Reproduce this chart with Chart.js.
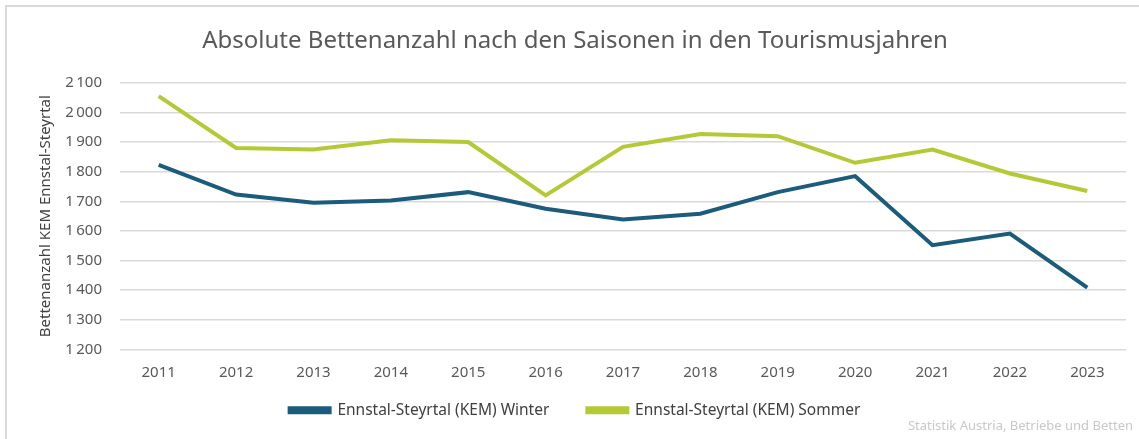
<!DOCTYPE html>
<html>
<head>
<meta charset="utf-8">
<script src="https://cdn.jsdelivr.net/npm/chart.js@4.4.1/dist/chart.umd.min.js"></script>
<style>
  body { margin: 0; background: #fff; }
  #frame { position: absolute; left: 5px; top: 5px; width: 1140px; height: 440px;
           border-top: 2px solid #dadada; border-left: 2px solid #dadada; }
  #wrap { position: absolute; left: 0; top: 0; width: 1139px; height: 439px; }
  #source { position: absolute; right: 6px; top: 416px; font-family: "Liberation Sans Narrow", "Noto Sans", sans-serif;
            font-size: 13px; color: #c8c8c8; }
</style>
</head>
<body>
<div id="frame"></div>
<div id="wrap"><canvas id="chart_1" width="1139" height="439"></canvas></div>
<div id="source">Statistik Austria, Betriebe und Betten</div>
<script>
// Tourismusjahre
const years = ['2011', '2012', '2013', '2014', '2015', '2016', '2017', '2018', '2019', '2020', '2021', '2022', '2023']
// Betten je Saison
const winter = [1823, 1723, 1695, 1703, 1731, 1675, 1639, 1658, 1731, 1785, 1552, 1591, 1409]
const sommer = [2055, 1880, 1875, 1906, 1900, 1720, 1884, 1927, 1920, 1830, 1875, 1794, 1735]

const series_names = ['Ennstal-Steyrtal (KEM) Winter', 'Ennstal-Steyrtal (KEM) Sommer']
const line_colours = ['#1b5c7c', '#b4c935']

function fmt(v) {
  // 2100 -> "2 100"
  let s = String(v)
  if (s.length > 3) s = s.slice(0, s.length - 3) + '\u2009' + s.slice(-3)
  return s
}

let ctx = document.getElementById('chart_1').getContext('2d')
let chart1 = new Chart(ctx, {
  type: 'line',
  data: {
    labels: years,
    datasets: [
      {
        label: series_names[0],
        data: winter,
        borderColor: line_colours[0],
        backgroundColor: line_colours[0],
        borderWidth: 4,
        pointRadius: 0,
        tension: 0
      },
      {
        label: series_names[1],
        data: sommer,
        borderColor: line_colours[1],
        backgroundColor: line_colours[1],
        borderWidth: 4,
        pointRadius: 0,
        tension: 0
      }
    ]
  },
  options: {
    responsive: false,
    animation: false,
    layout: { padding: { left: 24, right: 13, top: 0, bottom: 11 } },
    plugins: {
      title: {
        display: true,
        text: 'Absolute Bettenanzahl nach den Saisonen in den Tourismusjahren',
        color: '#595959',
        font: { family: 'Noto Sans', size: 24, weight: 'normal' },
        padding: { top: 27, bottom: 27 }
      },
      legend: {
        position: 'bottom',
        labels: {
          color: '#404040',
          font: { family: 'Noto Sans', size: 15.5 },
          boxWidth: 40,
          boxHeight: 4,
          padding: 7,
          generateLabels: function (chart) {
            let items = Chart.defaults.plugins.legend.labels.generateLabels(chart)
            // wider gap after the first entry, like the original
            items[0].text = items[0].text + '\u2003\u2003'
            return items
          }
        }
      },
      tooltip: { enabled: false }
    },
    scales: {
      x: {
        offset: true,
        grid: { display: false, drawTicks: false },
        border: { display: false },
        ticks: {
          color: '#595959',
          font: { family: 'Noto Sans', size: 15 },
          padding: 14,
          maxRotation: 0
        }
      },
      y: {
        min: 1200,
        max: 2100,
        afterFit: function (scale) { scale.width = 96 },
        grid: { color: '#d9d9d9', lineWidth: 1.5, drawTicks: false },
        border: { display: false },
        ticks: {
          stepSize: 100,
          color: '#595959',
          font: { family: 'Noto Sans', size: 15 },
          padding: 18,
          callback: function (v) { return fmt(v) }
        },
        title: {
          display: true,
          text: 'Bettenanzahl KEM Ennstal-Steyrtal',
          color: '#404040',
          font: { family: 'Noto Sans', size: 15 },
          padding: { top: 13, bottom: 0 }
        }
      }
    }
  }
})
</script>
</body>
</html>
